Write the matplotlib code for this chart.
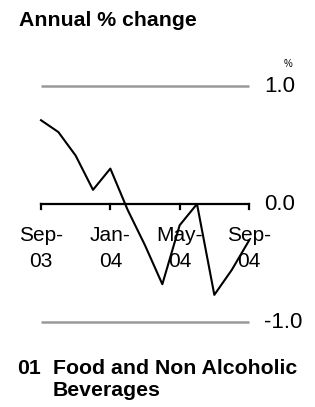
import matplotlib
matplotlib.use('Agg')
import matplotlib.pyplot as plt

plt.rcParams['font.family'] = ['Liberation Sans', 'DejaVu Sans']

months = ['Sep-03', 'Oct-03', 'Nov-03', 'Dec-03', 'Jan-04', 'Feb-04', 'Mar-04',
          'Apr-04', 'May-04', 'Jun-04', 'Jul-04', 'Aug-04', 'Sep-04']
values = [0.71, 0.61, 0.41, 0.12, 0.30, -0.05, -0.35, -0.68, -0.18, 0.0, -0.77, -0.56, -0.31]
tickPositions = [0, 4, 8, 12]
tickLabels = ['Sep-\n03', 'Jan-\n04', 'May-\n04', 'Sep-\n04']
yLevels = [1.0, 0.0, -1.0]
yLabels = ['1.0', '0.0', '-1.0']

W, H = 315, 407
fig = plt.figure(figsize=(W / 100, H / 100), dpi=100)

# axes box in pixels: x 41..249, y(1.0)=86, y(-1.0)=322
ax = fig.add_axes([41 / W, (H - 322) / H, 208 / W, 236 / H])
ax.set_xlim(0, len(months) - 1)
ax.set_ylim(-1.0, 1.0)
ax.axis('off')

# grey lines at +1 and -1
for lvl in [1.0, -1.0]:
    ax.plot([0, len(months) - 1], [lvl, lvl], color='#999999', lw=1.8,
            solid_capstyle='butt', clip_on=False)

# zero axis with downward ticks
ax.plot([0, len(months) - 1], [0, 0], color='black', lw=1.6, clip_on=False, zorder=2)
for t in tickPositions:
    ax.plot([t, t], [0, -0.045], color='black', lw=1.6, clip_on=False, zorder=2)

ax.plot(range(len(months)), values, color='black', lw=1.5, clip_on=False, zorder=3)

for t, lab in zip(tickPositions, tickLabels):
    ax.text(t, -0.19, lab, ha='center', va='top', fontsize=15,
            linespacing=1.42, clip_on=False)

for lvl, lab in zip(yLevels, yLabels):
    fig.text(264 / W, 1 - (86 + (1 - lvl) * 118) / H, lab, ha='left',
             va='center', fontsize=16)

fig.text(288 / W, 1 - 64 / H, '%', ha='center', va='center', fontsize=7)

fig.text(19 / W, 1 - 20 / H, 'Annual % change', ha='left', va='center',
         fontsize=15.3, fontweight='bold')

fig.text(17 / W, 1 - 369 / H, '01', ha='left', va='center',
         fontsize=15.3, fontweight='bold')
fig.text(53 / W, 1 - 369 / H, 'Food and Non Alcoholic', ha='left',
         va='center', fontsize=15.3, fontweight='bold')
fig.text(53 / W, 1 - 391 / H, 'Beverages', ha='left', va='center',
         fontsize=15.3, fontweight='bold')

fig.savefig('out.png', dpi=100)
